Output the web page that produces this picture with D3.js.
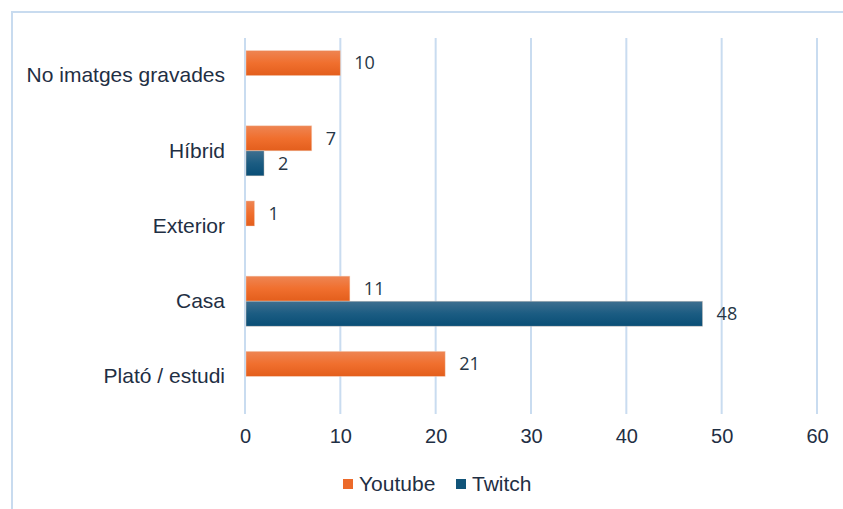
<!DOCTYPE html>
<html>
<head>
<meta charset="utf-8">
<script src="https://cdn.jsdelivr.net/npm/d3@7"></script>
<style>
  body { margin: 0; background: #fff; }
  .tick-label, .cat-label, .legend-label { font-family: "Liberation Sans", Arial, sans-serif; fill: #1f2f44; }
  .value-label { font-family: "Open Sans", sans-serif; fill: #263646; }
</style>
</head>
<body>
<svg width="843" height="509"></svg>
<script>
const categories = ['No imatges gravades', 'Híbrid', 'Exterior', 'Casa', 'Plató / estudi']
const seriesNames = ['Youtube', 'Twitch']
const youtube = [10, 7, 1, 11, 21]
const twitch = [0, 2, 0, 48, 0]
const xTicks = [0, 10, 20, 30, 40, 50, 60]

const svg = d3.select('svg')
const width = +svg.attr('width')
const height = +svg.attr('height')
const margin = { top: 38, right: 26, bottom: 95, left: 245 }

const data = categories.map((c, i) => ({ category: c, Youtube: youtube[i], Twitch: twitch[i] }))

// outer frame
svg.append('rect')
  .attr('x', 12).attr('y', 12)
  .attr('width', width + 20).attr('height', height + 20)
  .attr('fill', 'none')
  .attr('stroke', '#c8dbef')
  .attr('stroke-width', 2)

const defs = svg.append('defs')
const gradients = [
  { id: 'grad-yt', top: '#ee8553', mid: '#f06f2e', bottom: '#e35e1c' },
  { id: 'grad-tw', top: '#3f6f8f', mid: '#1b5c82', bottom: '#094e76' }
]
gradients.forEach(g => {
  const lg = defs.append('linearGradient').attr('id', g.id)
    .attr('x1', 0).attr('y1', 0).attr('x2', 0).attr('y2', 1)
  lg.append('stop').attr('offset', '0%').attr('stop-color', g.top)
  lg.append('stop').attr('offset', '50%').attr('stop-color', g.mid)
  lg.append('stop').attr('offset', '100%').attr('stop-color', g.bottom)
})
const fillFor = { Youtube: 'url(#grad-yt)', Twitch: 'url(#grad-tw)' }
const legendColor = { Youtube: '#ec6a2a', Twitch: '#115479' }

const xScale = d3.scaleLinear()
  .domain([0, 60])
  .range([margin.left, width - margin.right])

const yScale = d3.scaleBand()
  .domain(categories)
  .range([margin.top, height - margin.bottom])

const ySub = d3.scaleBand()
  .domain(seriesNames)
  .range([0, yScale.bandwidth()])
  .paddingInner(0)
  .paddingOuter(0.5)

// gridlines
svg.append('g')
  .selectAll('line')
  .data(xTicks)
  .join('line')
  .attr('x1', d => xScale(d)).attr('x2', d => xScale(d))
  .attr('y1', margin.top).attr('y2', height - margin.bottom)
  .attr('stroke', '#c9dcf0')
  .attr('stroke-width', 2)

// x axis labels
const xAxis = d3.axisBottom(xScale).tickValues(xTicks).tickSize(0).tickPadding(15)
const xAxisGroup = svg.append('g')
  .attr('transform', `translate(0, ${height - margin.bottom})`)
  .call(xAxis)
xAxisGroup.select('.domain').remove()
xAxisGroup.selectAll('text')
  .attr('class', 'tick-label')
  .attr('font-size', 20)
  .attr('fill', '#1f2f44')

// category labels
const yAxis = d3.axisLeft(yScale).tickSize(0).tickPadding(20)
const yAxisGroup = svg.append('g')
  .attr('transform', `translate(${margin.left}, 0)`)
  .call(yAxis)
yAxisGroup.select('.domain').remove()
yAxisGroup.selectAll('text')
  .attr('class', 'cat-label')
  .attr('font-size', 21)
  .attr('fill', '#1f2f44')

// bars
const bars = []
data.forEach(d => seriesNames.forEach(s => {
  if (d[s] > 0) bars.push({ category: d.category, series: s, value: d[s] })
}))

svg.append('g')
  .selectAll('rect')
  .data(bars)
  .join('rect')
  .attr('x', xScale(0) + 1)
  .attr('y', d => yScale(d.category) + ySub(d.series))
  .attr('width', d => xScale(d.value) - xScale(0) - 1)
  .attr('height', ySub.bandwidth())
  .attr('fill', d => fillFor[d.series])
  .attr('stroke', '#f6d9c8')
  .attr('stroke-opacity', 0.5)
  .attr('stroke-width', 0.8)

svg.append('g')
  .selectAll('text')
  .data(bars)
  .join('text')
  .attr('class', 'value-label')
  .attr('x', d => xScale(d.value) + 14)
  .attr('y', d => yScale(d.category) + ySub(d.series) + ySub.bandwidth() / 2)
  .attr('dy', '0.35em')
  .attr('font-size', 18)
  .text(d => d.value)

// legend
const legendX = d3.scaleOrdinal().domain(seriesNames).range([343, 456])
const legend = svg.append('g')
  .selectAll('g')
  .data(seriesNames)
  .join('g')
  .attr('transform', d => `translate(${legendX(d)}, 484)`)

legend.append('rect')
  .attr('x', 0).attr('y', -5)
  .attr('width', 10).attr('height', 10)
  .attr('fill', d => legendColor[d])

legend.append('text')
  .attr('class', 'legend-label')
  .attr('x', 16)
  .attr('dy', '0.35em')
  .attr('font-size', 21)
  .text(d => d)
</script>
</body>
</html>
